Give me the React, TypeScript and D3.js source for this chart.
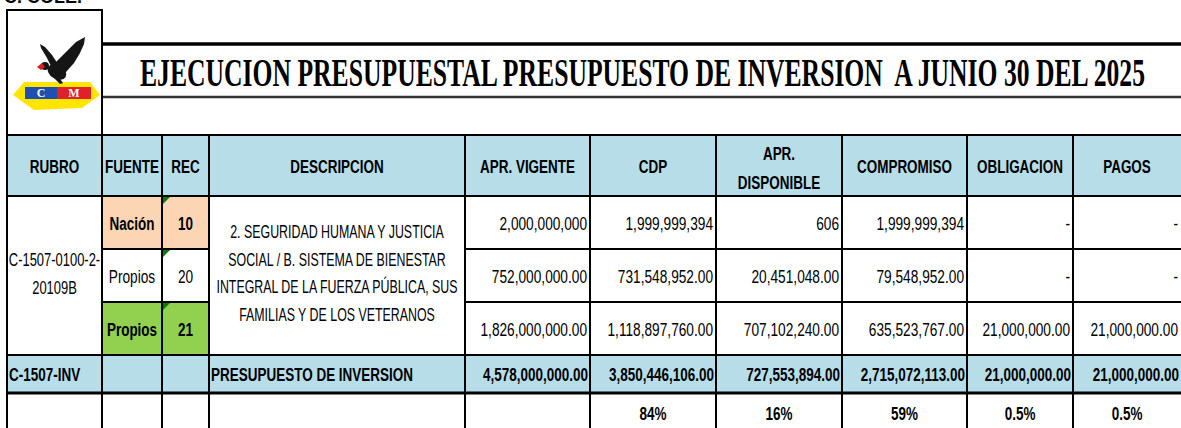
import React from "react";
import * as d3 from "d3";

const W = 1181;
const H = 428;

const titleText = "EJECUCION PRESUPUESTAL PRESUPUESTO DE INVERSION  A JUNIO 30 DEL 2025";
const headers = ["RUBRO", "FUENTE", "REC", "DESCRIPCION", "APR. VIGENTE", "CDP", "APR.|DISPONIBLE", "COMPROMISO", "OBLIGACION", "PAGOS"];
const colKeys = ["rubro", "fuente", "rec", "desc", "vig", "cdp", "disp", "comp", "obl", "pag"];
const colEdges = [7, 102, 162, 209, 465, 590, 716, 842, 967, 1073, 1181];

const rubro = ["C-1507-0100-2-", "20109B"];
const fuentes = ["Nación", "Propios", "Propios"];
const recs = ["10", "20", "21"];
const descripcion = [
  "2. SEGURIDAD HUMANA Y JUSTICIA",
  "SOCIAL / B. SISTEMA DE BIENESTAR",
  "INTEGRAL DE LA FUERZA PÚBLICA, SUS",
  "FAMILIAS Y DE LOS VETERANOS",
];
const rowDecimals = [0, 2, 2];
const aprVigente = [2000000000, 752000000, 1826000000];
const cdp = [1999999394, 731548952, 1118897760];
const aprDisponible = [606, 20451048, 707102240];
const compromiso = [1999999394, 79548952, 635523767];
const obligacion = [0, 0, 21000000];
const pagos = [0, 0, 21000000];

const totalRubro = "C-1507-INV";
const totalDesc = "PRESUPUESTO DE INVERSION";
const totals = [4578000000, 3850446106, 727553894, 2715072113, 21000000, 21000000];
const percents = ["84%", "16%", "59%", "0.5%", "0.5%"];

const valueCols = ["vig", "cdp", "disp", "comp", "obl", "pag"];
const valueSeries = [aprVigente, cdp, aprDisponible, compromiso, obligacion, pagos];

const fuenteFills = ["#fcd5b4", "#ffffff", "#92d050"];
const fuenteBold = [true, false, true];

const rowKeys = ["head", "r1", "r2", "r3", "tot", "pct"];
const rowEdges = [135, 196, 249, 302, 355, 393, 440];

const SANS = "'Liberation Sans', Arial, sans-serif";
const N_SIZE = 18.5;
const N_SX = 0.74;
const B_SIZE = 19;
const B_SX = 0.71;

type TxtProps = {
  x: number;
  y: number;
  anchor?: "start" | "middle" | "end";
  bold?: boolean;
  size?: number;
  sx?: number;
  children: React.ReactNode;
};

function Txt({ x, y, anchor = "start", bold = false, size, sx, children }: TxtProps) {
  const s = size ?? (bold ? B_SIZE : N_SIZE);
  const k = sx ?? (bold ? B_SX : N_SX);
  return (
    <g transform={`translate(${x},${y}) scale(${k},1)`}>
      <text x={0} y={0} textAnchor={anchor} fontFamily={SANS} fontWeight={bold ? "bold" : "normal"} fontSize={s} fill="#000">
        {children}
      </text>
    </g>
  );
}

export default function App() {
  const xL = d3.scaleOrdinal<string, number>().domain(colKeys).range(colEdges.slice(0, -1));
  const xR = d3.scaleOrdinal<string, number>().domain(colKeys).range(colEdges.slice(1));
  const yT = d3.scaleOrdinal<string, number>().domain(rowKeys).range(rowEdges.slice(0, -1));
  const yB = d3.scaleOrdinal<string, number>().domain(rowKeys).range(rowEdges.slice(1));
  const xC = (k: string) => (xL(k) + xR(k)) / 2;
  const yC = (k: string) => (yT(k) + yB(k)) / 2;

  const fmt0 = d3.format(",.0f");
  const fmt2 = d3.format(",.2f");
  const fmtVal = (v: number, dec: number) => (v === 0 ? "-" : dec === 0 ? fmt0(v) : fmt2(v));

  const dataRows = ["r1", "r2", "r3"];
  const lineW = 2;

  return (
    <svg width={W} height={H} style={{ position: "absolute", left: 0, top: 0, background: "#fff" }}>
      <rect x={0} y={0} width={W} height={H} fill="#fff" />
      {/* cut-off text at top */}
      <text x={4} y={3} fontFamily={SANS} fontWeight="bold" fontSize={18} fill="#000">
        C. COLE.
      </text>

      {/* logo box */}
      <rect x={7} y={10} width={95} height={125} fill="none" stroke="#000" strokeWidth={lineW} />
      {/* logo */}
      <g>
        <path d="M13,95 L24,82 L90,82 L100,95 L82,108 L34,110 Z" fill="#ffe500" />
        <rect x={25} y={87} width={32} height={12} fill="#1f4fb0" />
        <rect x={57} y={87} width={34} height={12} fill="#e0202a" />
        <text x={41} y={97} textAnchor="middle" fontFamily="'Liberation Serif', serif" fontWeight="bold" fontSize={12} fill="#fff">C</text>
        <text x={74} y={97} textAnchor="middle" fontFamily="'Liberation Serif', serif" fontWeight="bold" fontSize={12} fill="#fff">M</text>
        {/* eagle wings and body */}
        <path d="M52,66 L66,52 L76,42 L85,37 L84,44 L80,53 L74,63 L66,72 L60,76 Z" fill="#151515" />
        <path d="M52,68 L47,58 L41,48 L40,44 L45,47 L52,55 L58,64 Z" fill="#151515" />
        <ellipse cx={57} cy={72} rx={10} ry={7} transform="rotate(30,57,72)" fill="#151515" />
        <path d="M58,76 L63,83 L60,84 L54,78 Z" fill="#151515" />
        <circle cx={45} cy={66} r={4} fill="#151515" />
        <path d="M37,67 L42,63 L45,67 L41,70 Z" fill="#d42020" />
      </g>

      {/* title box */}
      <line x1={102} x2={W} y1={44} y2={44} stroke="#000" strokeWidth={3.5} />
      <line x1={102} x2={W} y1={97} y2={97} stroke="#333" strokeWidth={2.5} />
      <text x={140} y={86} fontFamily="'Liberation Serif', 'Times New Roman', serif" fontWeight="bold" fontSize={39}
        textLength={1005} lengthAdjust="spacingAndGlyphs" fill="#000" style={{ whiteSpace: "pre" }}>
        {titleText}
      </text>

      {/* fills */}
      <rect x={colEdges[0]} y={yT("head")} width={W - colEdges[0]} height={yB("head") - yT("head")} fill="#b7dde8" />
      <rect x={colEdges[0]} y={yT("tot")} width={W - colEdges[0]} height={yB("tot") - yT("tot")} fill="#b7dde8" />
      {dataRows.map((r, i) => (
        <rect key={"f" + r} x={xL("fuente")} y={yT(r)} width={xR("rec") - xL("fuente")} height={yB(r) - yT(r)} fill={fuenteFills[i]} />
      ))}

      {/* header text */}
      {headers.map((h, i) => {
        const k = colKeys[i];
        const parts = h.split("|");
        return parts.map((p, j) => (
          <Txt key={k + j} x={xC(k)} y={parts.length === 1 ? yC("head") + 7 : yC("head") - 6 + j * 29} anchor="middle" bold>
            {p}
          </Txt>
        ));
      })}

      {/* rubro */}
      {rubro.map((t, i) => (
        <Txt key={"rb" + i} x={xC("rubro")} y={266 + i * 28} anchor="middle" sx={0.7}>
          {t}
        </Txt>
      ))}

      {/* fuente / rec */}
      {dataRows.map((r, i) => (
        <g key={"fr" + r}>
          <Txt x={xC("fuente")} y={yC(r) + 7} anchor="middle" bold={fuenteBold[i]}>
            {fuentes[i]}
          </Txt>
          <Txt x={xC("rec")} y={yC(r) + 7} anchor="middle" bold={fuenteBold[i]}>
            {recs[i]}
          </Txt>
          <path d={`M${xL("rec") + 1},${yT(r) + 1} L${xL("rec") + 8},${yT(r) + 1} L${xL("rec") + 1},${yT(r) + 8} Z`} fill="#0a7a0a" />
        </g>
      ))}

      {/* descripcion */}
      {descripcion.map((t, i) => (
        <Txt key={"d" + i} x={xC("desc")} y={238 + i * 27.5} anchor="middle" sx={0.67}>
          {t}
        </Txt>
      ))}

      {/* values */}
      {valueSeries.map((s, ci) =>
        s.map((v, ri) => {
          const r = dataRows[ri];
          return (
            <Txt key={"v" + ci + ri} x={xR(valueCols[ci]) - 3} y={yC(r) + 7} anchor="end">
              {fmtVal(v, rowDecimals[ri])}
            </Txt>
          );
        })
      )}

      {/* totals */}
      <Txt x={xL("rubro") + 2} y={yC("tot") + 7} bold>{totalRubro}</Txt>
      <Txt x={xL("desc") + 2} y={yC("tot") + 7} bold>{totalDesc}</Txt>
      {totals.map((v, ci) => (
        <Txt key={"t" + ci} x={xR(valueCols[ci]) - 2} y={yC("tot") + 7} anchor="end" bold>
          {fmt2(v)}
        </Txt>
      ))}
      {percents.map((p, ci) => (
        <Txt key={"p" + ci} x={xC(valueCols[ci + 1])} y={420} anchor="middle" bold>
          {p}
        </Txt>
      ))}

      {/* grid lines */}
      {colEdges.slice(0, -1).map((x, i) => (
        <line key={"vl" + i} x1={x} x2={x} y1={i === 1 ? 10 : yT("head")} y2={H} stroke="#000" strokeWidth={lineW} />
      ))}
      {["head", "r1", "tot", "pct"].map((r) => (
        <line key={"hl" + r} x1={colEdges[0] - 1} x2={W} y1={yT(r)} y2={yT(r)} stroke="#000" strokeWidth={r === "pct" ? 3 : lineW} />
      ))}
      {["r2", "r3"].map((r) => (
        <g key={"hm" + r}>
          <line x1={xL("fuente")} x2={xR("rec")} y1={yT(r)} y2={yT(r)} stroke="#000" strokeWidth={lineW} />
          <line x1={xL("vig")} x2={W} y1={yT(r)} y2={yT(r)} stroke="#000" strokeWidth={lineW} />
        </g>
      ))}
    </svg>
  );
}
